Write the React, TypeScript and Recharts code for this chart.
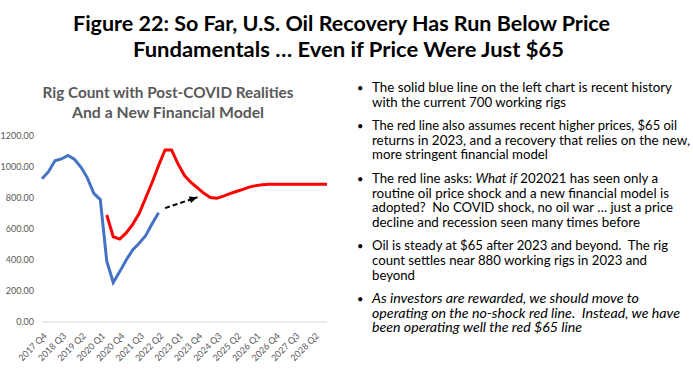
import React from 'react';
import { LineChart, Line, XAxis, YAxis } from 'recharts';

// quarters on the category axis
const quarters = [
  '2017 Q4',
  '2018 Q1', '2018 Q2', '2018 Q3', '2018 Q4',
  '2019 Q1', '2019 Q2', '2019 Q3', '2019 Q4',
  '2020 Q1', '2020 Q2', '2020 Q3', '2020 Q4',
  '2021 Q1', '2021 Q2', '2021 Q3', '2021 Q4',
  '2022 Q1', '2022 Q2', '2022 Q3', '2022 Q4',
  '2023 Q1', '2023 Q2', '2023 Q3', '2023 Q4',
  '2024 Q1', '2024 Q2', '2024 Q3', '2024 Q4',
  '2025 Q1', '2025 Q2', '2025 Q3', '2025 Q4',
  '2026 Q1', '2026 Q2', '2026 Q3', '2026 Q4',
  '2027 Q1', '2027 Q2', '2027 Q3', '2027 Q4',
  '2028 Q1', '2028 Q2', '2028 Q3', '2028 Q4',
];

// recent history (solid blue)
const actualRigs = [
  924, 970, 1040, 1052, 1075, 1050, 1000, 930, 830, 790,
  392, 255, 325, 400, 465, 508, 557, 634, 705,
];

// no-shock path at $65 (red), starts 2020 Q2
const noShockRigs = [
  690, 550, 535, 575, 630, 700, 800, 900, 1010, 1110,
  1110, 1020, 945, 900, 865, 830, 803, 798, 812, 828,
  842, 856, 870, 880, 886, 888, 888, 888, 888, 888,
  888, 888, 888, 888, 888,
];
const noShockStart = 10;

// black dashed arrow: 2022 Q3 -> 2023 Q4
const arrowRigs = [735, null, null, null, null, 805];
const arrowStart = 19;

const yTicks = [0, 200, 400, 600, 800, 1000, 1200];

const mainTitle = [
  'Figure 22: So Far, U.S. Oil Recovery Has Run Below Price',
  'Fundamentals \u2026 Even if Price Were Just $65',
];
const chartTitle = ['Rig Count with Post-COVID Realities', 'And a New Financial Model'];

// bullet paragraphs, line by line; [text, italic] segments
type Seg = [string, boolean];
const bullets: Seg[][][] = [
  [
    [['The solid blue line on the left chart is recent history', false]],
    [['with the current 700 working rigs', false]],
  ],
  [
    [['The red line also assumes recent higher prices, $65 oil', false]],
    [['returns in 2023, and a recovery that relies on the new,', false]],
    [['more stringent financial model', false]],
  ],
  [
    [['The red line asks: ', false], ['What if', true], [' 202021 has seen only a', false]],
    [['routine oil price shock and a new financial model is', false]],
    [['adopted?  No COVID shock, no oil war \u2026 just a price', false]],
    [['decline and recession seen many times before', false]],
  ],
  [
    [['Oil is steady at $65 after 2023 and beyond.  The rig', false]],
    [['count settles near 880 working rigs in 2023 and', false]],
    [['beyond', false]],
  ],
  [
    [['As investors are rewarded, we should move to', true]],
    [['operating on the no-shock red line.  Instead, we have', true]],
    [['been operating well the red $65 line', true]],
  ],
];
// measured widths of each bullet line (px)
const bulletWidths = [
  [300, 194],
  [305, 318, 176],
  [286, 297, 301, 268],
  [296, 275, 43],
  [267, 308, 210],
];

const data = quarters.map((q, i) => ({
  q,
  actual: i < actualRigs.length ? actualRigs[i] : null,
  noShock: i >= noShockStart && i - noShockStart < noShockRigs.length ? noShockRigs[i - noShockStart] : null,
  arrow: i >= arrowStart && i - arrowStart < arrowRigs.length ? arrowRigs[i - arrowStart] : null,
}));

const FONT = 'Lato, "Liberation Sans", sans-serif';
const GREY = '#595959';

const QuarterTick = ({ x, y, payload }: any) => (
  <text
    x={x + 3}
    y={y + 4}
    transform={`rotate(-45, ${x + 3}, ${y + 4})`}
    textAnchor="end"
    dominantBaseline="central"
    fontSize={9}
    fontFamily={FONT}
    fill={GREY}
  >
    {payload.value}
  </text>
);

const ArrowHead = (props: any) => {
  const { cx, cy, index, points } = props;
  if (index !== arrowStart + arrowRigs.length - 1 || cx == null || cy == null) return <g key={`ah-${index}`} />;
  let ang = -19;
  if (points) {
    const first = points.find((p: any) => p && p.y != null);
    if (first && first.x !== cx) ang = (Math.atan2(cy - first.y, cx - first.x) * 180) / Math.PI;
  }
  return (
    <polygon
      key={`ah-${index}`}
      points={`${cx},${cy} ${cx - 8},${cy - 3.5} ${cx - 8},${cy + 3.5}`}
      transform={`rotate(${ang}, ${cx}, ${cy})`}
      fill="#000"
    />
  );
};

export default function App() {
  const bulletY: number[][] = [];
  let yy = 92;
  bullets.forEach((b) => {
    bulletY.push(b.map(() => { const v = yy; yy += 14.6; return v; }));
    yy += 9;
  });

  return (
    <div style={{ position: 'absolute', left: 0, top: 0, width: 693, height: 373, background: '#fff' }}>
      <div style={{ position: 'absolute', left: 0, top: 0 }}>
        <LineChart
          width={340}
          height={373}
          data={data}
          margin={{ top: 136, right: 13, bottom: 1, left: 0 }}
        >
          <XAxis
            dataKey="q"
            interval={2}
            tickLine={false}
            axisLine={{ stroke: '#d9d9d9' }}
            tick={<QuarterTick />}
            height={50}
          />
          <YAxis
            domain={[0, 1200]}
            ticks={yTicks}
            width={42}
            axisLine={false}
            tickLine={false}
            tickFormatter={(v: number) => v.toFixed(2)}
            tick={{ fontSize: 9, fill: GREY, fontFamily: FONT }}
          />
          <Line
            dataKey="actual"
            stroke="#4472C4"
            strokeWidth={3}
            dot={false}
            isAnimationActive={false}
          />
          <Line
            dataKey="noShock"
            stroke="#FF0000"
            strokeWidth={3}
            dot={false}
            isAnimationActive={false}
          />
          <Line
            dataKey="arrow"
            stroke="#000"
            strokeWidth={2}
            strokeDasharray="5 3"
            connectNulls
            dot={<ArrowHead />}
            isAnimationActive={false}
          />
        </LineChart>
      </div>
      <svg
        width={693}
        height={373}
        style={{ position: 'absolute', left: 0, top: 0, pointerEvents: 'none', whiteSpace: 'pre' }}
      >
        {mainTitle.map((t, i) => (
          <text
            key={t}
            x={i === 0 ? 73 : 133}
            y={i === 0 ? 31 : 57}
            fontSize={21}
            fontWeight="bold"
            fontFamily={FONT}
            textLength={i === 0 ? 537 : 431}
            lengthAdjust="spacingAndGlyphs"
            fill="#000"
          >
            {t}
          </text>
        ))}
        {chartTitle.map((t, i) => (
          <text
            key={t}
            x={168}
            y={i === 0 ? 98 : 118}
            textAnchor="middle"
            fontSize={14.5}
            fontWeight="bold"
            fontFamily={FONT}
            textLength={i === 0 ? 251 : 192}
            lengthAdjust="spacingAndGlyphs"
            fill={GREY}
          >
            {t}
          </text>
        ))}
        {bullets.map((b, bi) => (
          <g key={bi}>
            <text x={357} y={bulletY[bi][0]} fontSize={11} fontFamily={FONT} fill="#000">
              {'\u2022'}
            </text>
            {b.map((segs, li) => (
              <text
                key={li}
                x={372}
                y={bulletY[bi][li]}
                fontSize={12.5}
                fontFamily={FONT}
                textLength={bulletWidths[bi][li]}
                lengthAdjust="spacingAndGlyphs"
                fill="#000"
                style={{ whiteSpace: 'pre' }}
              >
                {segs.map(([s, it], si) => (
                  <tspan key={si} fontStyle={it ? 'italic' : 'normal'}>{s}</tspan>
                ))}
              </text>
            ))}
          </g>
        ))}
      </svg>
    </div>
  );
}
